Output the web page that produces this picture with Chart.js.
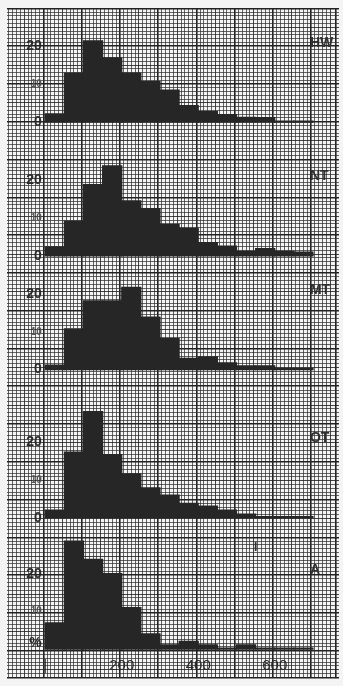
<!DOCTYPE html>
<html>
<head>
<meta charset="utf-8">
<script src="https://cdn.jsdelivr.net/npm/chart.js@4.4.0/dist/chart.umd.min.js"></script>
<style>
  html, body { margin: 0; padding: 0; background: #f4f4f4; }
  #wrap { width: 343px; height: 686px; }
</style>
</head>
<body>
<div id="wrap"><canvas id="hist" width="343" height="686"></canvas></div>
<script>
// class lower edges (width 50) and their centres
const binStart = [0, 50, 100, 150, 200, 250, 300, 350, 400, 450, 500, 550, 600, 650];
const binCentre = binStart.map(b => b + 25);

// percentages
const panelNames = ['HW', 'NT', 'MT', 'OT', 'A'];
const HW = [2.2, 13.0, 21.5, 17.0, 13.0, 10.7, 8.5, 4.4, 2.8, 2.0, 1.3, 1.2, 0.3, 0.3];
const NT = [2.4, 9.2, 18.9, 23.8, 14.6, 12.5, 8.3, 7.3, 3.5, 2.6, 1.2, 1.9, 1.2, 1.0];
const MT = [1.2, 10.8, 18.2, 18.2, 21.8, 13.9, 8.2, 3.0, 3.4, 1.8, 1.0, 1.0, 0.3, 0.3];
const OT = [2.0, 17.4, 28.1, 16.7, 11.6, 7.9, 6.0, 3.8, 3.1, 2.0, 1.0, 0.3, 0.3, 0.3];
const A  = [7.0, 28.6, 23.8, 20.0, 11.0, 4.1, 1.2, 2.1, 1.2, 0.3, 1.2, 0.3, 0.3, 0.3];
const series = [HW, NT, MT, OT, A];

// tick labels
const yTickValues = [0, 10, 20];
const yTickText = ['0', '10', '20'];
const aTickValues = [1.5, 10, 20];
const aTickText = ['%', '10', '20'];
const xTickValues = [0, 200, 400, 600];
const xTickText = ['|', '200', '400', '600'];

// little mark in panel A
const markText = 'I';
const markX = 550, markY = 27;

// layout of the graph paper (1 y unit = 1 mm of paper)
const SPAN = 177.1;
const X_MIN = -100, X_MAX = 768;
const panelZero = [30.1, 65.5, 95.6, 134.8, 169.6];   // mm from frame top to each baseline
const NAME_X = 692, NAME_Y = 21;

Chart.defaults.font.family = '"Liberation Sans", Arial, sans-serif';

function tickVal(ctx) {
    return ctx && ctx.tick ? ctx.tick.value : 1;
}
function paperColor(v, max) {
    v = Math.round(v);
    if (v % 10 === 0 || v === Math.round(max)) return '#222';
    if (v % 5 === 0) return 'rgba(35,35,35,0.85)';
    return 'rgba(45,45,45,0.72)';
}
function paperWidth(v, max) {
    v = Math.round(v);
    if (v % 10 === 0 || v === Math.round(max)) return 1.6;
    return 1;
}

const scales = {
    x: {
        type: 'linear',
        min: X_MIN,
        max: X_MAX,
        offset: false,
        position: { y4: 0 },
        grid: { display: false, offset: false },
        border: { display: false },
        afterBuildTicks: axis => {
            axis.ticks = [X_MIN].concat(xTickValues, [X_MAX]).map(v => ({ value: v }));
        },
        ticks: {
            autoSkip: false,
            maxRotation: 0,
            padding: 0,
            color: '#2a2a2a',
            font: { size: 15 },
            callback: v => {
                const i = xTickValues.indexOf(v);
                return i < 0 ? null : xTickText[i];
            }
        }
    },
    xp: {
        type: 'linear',
        min: X_MIN,
        max: X_MAX,
        offset: false,
        position: 'top',
        ticks: { display: false, stepSize: 10 },
        border: { display: false },
        grid: {
            drawTicks: false,
            color: ctx => paperColor(tickVal(ctx) / 10, X_MAX / 10),
            lineWidth: ctx => paperWidth(tickVal(ctx) / 10, X_MAX / 10)
        }
    },
    yp: {
        type: 'linear',
        min: 0,
        max: SPAN,
        reverse: true,
        position: 'left',
        ticks: { display: false, stepSize: 1 },
        border: { display: false },
        grid: {
            drawTicks: false,
            color: ctx => paperColor(tickVal(ctx), SPAN),
            lineWidth: ctx => paperWidth(tickVal(ctx), SPAN)
        }
    }
};

panelNames.forEach((name, i) => {
    const vals = name === 'A' ? aTickValues : yTickValues;
    const txt = name === 'A' ? aTickText : yTickText;
    const top = panelZero[i];
    scales['y' + i] = {
        type: 'linear',
        min: top - SPAN,
        max: top,
        position: { x: -9 },
        grid: { display: false },
        border: { display: false },
        afterBuildTicks: axis => {
            axis.ticks = [top - SPAN].concat(vals, [top]).map(v => ({ value: v }));
        },
        ticks: {
            autoSkip: false,
            padding: 0,
            color: ctx => tickVal(ctx) === 10 ? '#555' : '#2a2a2a',
            font: ctx => tickVal(ctx) === 10 ? { size: 10, weight: 'bold' } : { size: 14, weight: 'bold' },
            callback: v => {
                const k = vals.indexOf(v);
                return k < 0 ? null : txt[k];
            }
        }
    };
});

const datasets = series.map((vals, i) => ({
    label: panelNames[i],
    data: vals.map((v, k) => ({ x: binCentre[k], y: v })),
    xAxisID: 'x',
    yAxisID: 'y' + i,
    grouped: false,
    backgroundColor: '#262626',
    borderWidth: 0,
    inflateAmount: 0.6,
    barPercentage: 1,
    categoryPercentage: 1
}));

const panelLabels = {
    id: 'panelLabels',
    afterDatasetsDraw(chart) {
        const { ctx } = chart;
        const sx = chart.scales.x;
        ctx.save();
        ctx.fillStyle = '#303030';
        ctx.textBaseline = 'middle';
        ctx.textAlign = 'left';
        ctx.font = 'bold 14px "Liberation Sans", Arial, sans-serif';
        panelNames.forEach((name, i) => {
            ctx.fillText(name, sx.getPixelForValue(NAME_X), chart.scales['y' + i].getPixelForValue(NAME_Y));
        });
        ctx.font = 'bold 12px "Liberation Sans", Arial, sans-serif';
        ctx.textAlign = 'center';
        ctx.fillText(markText, sx.getPixelForValue(markX), chart.scales.y4.getPixelForValue(markY));
        ctx.restore();
    }
};

new Chart(document.getElementById('hist'), {
    type: 'bar',
    data: { datasets: datasets },
    options: {
        responsive: false,
        animation: false,
        layout: { padding: { top: 6, left: 7, right: 4, bottom: 7 } },
        plugins: { legend: { display: false }, tooltip: { enabled: false } },
        scales: scales
    },
    plugins: [panelLabels]
});
</script>
</body>
</html>
